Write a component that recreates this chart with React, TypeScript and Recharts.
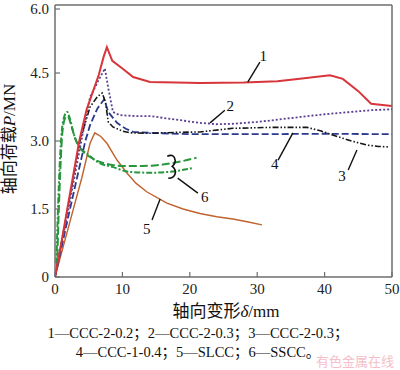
import React from 'react';
import { LineChart, Line, XAxis, YAxis, ReferenceLine, ReferenceDot } from 'recharts';

// ---- data (δ in mm, P in MN) ----
const xTicks = [0, 10, 20, 30, 40, 50];
const yTicks = [0, 1.5, 3.0, 4.5, 6.0];

const delta1 = [0, 1, 2, 3.6, 4.7, 5.3, 6.5, 7.2, 7.7, 8.5, 10, 11.6, 14.1, 18, 21.5, 28, 33, 36, 40.8, 42.7, 45, 46.9, 50];
const load1 = [0, 0.8, 1.65, 3.0, 3.7, 3.95, 4.46, 4.85, 5.07, 4.77, 4.6, 4.41, 4.3, 4.29, 4.28, 4.29, 4.32, 4.37, 4.45, 4.37, 4.1, 3.82, 3.77];

const delta2 = [0, 2, 3.9, 5.2, 6.5, 7.4, 7.9, 8.6, 9.6, 12, 14.1, 18, 21.5, 24, 26.4, 30, 33, 36.4, 40, 43.8, 47, 50];
const load2 = [0, 1.5, 3.0, 3.97, 4.35, 4.6, 4.17, 3.64, 3.57, 3.55, 3.55, 3.47, 3.4, 3.37, 3.38, 3.42, 3.47, 3.53, 3.59, 3.64, 3.68, 3.7];

const delta3 = [0, 2, 3.7, 5.2, 6.3, 7.0, 7.5, 7.9, 8.6, 10, 11.1, 14, 18, 21.5, 26.4, 32, 37.4, 39.5, 41.2, 44, 46.3, 48, 49.4];
const load3 = [0, 1.6, 3.0, 3.75, 3.98, 4.06, 3.85, 3.42, 3.31, 3.22, 3.18, 3.17, 3.19, 3.2, 3.28, 3.3, 3.3, 3.22, 3.13, 3.0, 2.91, 2.88, 2.87];

const delta4 = [0, 2, 4.5, 5.2, 6.3, 7.3, 7.9, 9.2, 10.5, 11.6, 14.1, 20, 30, 40, 50];
const load4 = [0, 1.35, 3.0, 3.35, 3.72, 3.92, 3.64, 3.4, 3.27, 3.2, 3.18, 3.15, 3.15, 3.16, 3.15];

const delta5 = [0, 2, 4, 5.2, 5.9, 6.8, 7.7, 9.2, 10.7, 12, 13.6, 16.6, 19, 21.5, 24, 26.4, 28.5, 30.7];
const load5 = [0, 1.1, 2.2, 2.95, 3.18, 3.1, 2.95, 2.58, 2.29, 2.07, 1.88, 1.63, 1.5, 1.4, 1.33, 1.28, 1.22, 1.15];

const delta6a = [0.3, 0.5, 0.8, 1.1, 1.5, 1.9, 2.3, 3.0, 4.0, 5.5, 7.5, 10, 13, 16, 19, 21];
const load6a = [0.2, 1.2, 2.4, 3.2, 3.5, 3.55, 3.4, 3.05, 2.8, 2.62, 2.5, 2.45, 2.45, 2.48, 2.56, 2.63];

const delta6b = [0.2, 0.4, 0.7, 1.0, 1.4, 1.8, 2.2, 2.7, 3.3, 5.0, 6.5, 8.5, 11, 14, 17, 20.3];
const load6b = [0.3, 1.3, 2.5, 3.2, 3.55, 3.64, 3.5, 3.2, 2.95, 2.69, 2.52, 2.43, 2.32, 2.3, 2.32, 2.4];

// annotation labels
const annNames = ['1', '2', '3', '4', '5', '6'];
const annX = [30.9, 26.0, 42.6, 32.6, 13.6, 22.2];
const annY = [4.83, 3.73, 2.2, 2.45, 1.02, 1.72];
const leadFrom = [[28.6, 4.3], [23.0, 3.4], [44.8, 2.8], [35.3, 3.18], [15.6, 1.72], [18.2, 2.18]];
const leadTo = [[30.4, 4.74], [25.2, 3.68], [43.5, 2.36], [33.1, 2.58], [14.4, 1.26], [21.2, 1.85]];
const bracketPos = [17.4, 2.42];

const zip = (xs: number[], ys: number[]) => xs.map((d, i) => ({ d, p: ys[i] }));

const SERIF = "'Liberation Serif', 'Noto Sans CJK SC', serif";
const AX = '#6e6e6e';

const XTick = (props: any) => {
  const { x, y, payload } = props;
  return (
    <g>
      <line x1={x} x2={x} y1={y} y2={y - 5} stroke={AX} strokeWidth={1.2} />
      <text x={x} y={y + 17} textAnchor="middle" fontSize={15} fontFamily={SERIF} fill="#222">
        {payload.value}
      </text>
    </g>
  );
};

const YTick = (props: any) => {
  const { x, y, payload } = props;
  const v = payload.value;
  return (
    <g>
      <line x1={x} x2={x + 5} y1={y} y2={y} stroke={AX} strokeWidth={1.2} />
      <text x={x - 6} y={y + 5} textAnchor="end" fontSize={15} fontFamily={SERIF} fill="#222">
        {v === 0 ? '0' : v.toFixed(1)}
      </text>
    </g>
  );
};

const textShape = (label: string) => (props: any) => (
  <text x={props.cx} y={props.cy} textAnchor="middle" dominantBaseline="middle" fontSize={15} fontFamily={SERIF} fill="#111">
    {label}
  </text>
);

const bracketShape = (props: any) => {
  const { cx, cy } = props;
  return (
    <path
      d={`M ${cx - 5} ${cy - 11} C ${cx + 3} ${cy - 15} ${cx + 5} ${cy - 5} ${cx} ${cy - 1} C ${cx + 5} ${cy + 3} ${cx + 4} ${cy + 11} ${cx - 4} ${cy + 11}`}
      fill="none"
      stroke="#111"
      strokeWidth={1.6}
    />
  );
};

export default function App() {
  return (
    <div style={{ position: 'absolute', left: 0, top: 0, width: 400, height: 370, background: '#fff' }}>
      <LineChart width={400} height={370} margin={{ top: 5, right: 8, bottom: 63, left: 0 }}>
        <XAxis
          type="number"
          dataKey="d"
          domain={[0, 50]}
          ticks={xTicks}
          allowDataOverflow
          height={30}
          tickSize={0}
          tickMargin={0}
          tick={<XTick />}
          axisLine={{ stroke: AX, strokeWidth: 1.5 }}
        />
        <YAxis
          type="number"
          dataKey="p"
          domain={[0, 6]}
          ticks={yTicks}
          allowDataOverflow
          width={55}
          tickSize={0}
          tickMargin={0}
          tick={<YTick />}
          axisLine={{ stroke: AX, strokeWidth: 1.5 }}
        />
        <ReferenceLine y={6} stroke={AX} strokeWidth={1.5} />
        <ReferenceLine x={50} stroke={AX} strokeWidth={1.5} />

        <Line data={zip(delta5, load5)} dataKey="p" stroke="#c0622e" strokeWidth={1.4} dot={false} isAnimationActive={false} type="linear" />
        <Line data={zip(delta6b, load6b)} dataKey="p" stroke="#27963c" strokeWidth={2} strokeDasharray="6 2 2 2" dot={false} isAnimationActive={false} type="monotone" />
        <Line data={zip(delta6a, load6a)} dataKey="p" stroke="#27963c" strokeWidth={2} strokeDasharray="8 3" dot={false} isAnimationActive={false} type="monotone" />
        <Line data={zip(delta4, load4)} dataKey="p" stroke="#2c3a8e" strokeWidth={1.8} strokeDasharray="7 3" dot={false} isAnimationActive={false} type="linear" />
        <Line data={zip(delta3, load3)} dataKey="p" stroke="#151515" strokeWidth={1.6} strokeDasharray="6 2 1.5 2 1.5 2" dot={false} isAnimationActive={false} type="linear" />
        <Line data={zip(delta2, load2)} dataKey="p" stroke="#5a3f90" strokeWidth={1.8} strokeDasharray="2 2" dot={false} isAnimationActive={false} type="linear" />
        <Line data={zip(delta1, load1)} dataKey="p" stroke="#d8353b" strokeWidth={2} dot={false} isAnimationActive={false} type="linear" />

        {leadFrom.map((f, i) => (
          <ReferenceLine
            key={'l' + i}
            segment={[{ x: f[0], y: f[1] }, { x: leadTo[i][0], y: leadTo[i][1] }]}
            stroke="#111"
            strokeWidth={1.4}
          />
        ))}
        {annNames.map((n, i) => (
          <ReferenceDot key={'a' + i} x={annX[i]} y={annY[i]} r={0} shape={textShape(n)} />
        ))}
        <ReferenceDot x={bracketPos[0]} y={bracketPos[1]} r={0} shape={bracketShape} />
      </LineChart>

      <svg width={400} height={370} style={{ position: 'absolute', left: 0, top: 0, pointerEvents: 'none' }}>
        <text x={226} y={317} textAnchor="middle" fontSize={17} fontFamily={SERIF} fill="#111">
          轴向变形<tspan fontStyle="italic">δ</tspan>/mm
        </text>
        <text transform="translate(15,139) rotate(-90)" textAnchor="middle" fontSize={17} fontFamily={SERIF} fill="#111">
          轴向荷载<tspan fontStyle="italic">P</tspan>/MN
        </text>
        <text x={198} y={338} textAnchor="middle" fontSize={14.5} fontFamily={SERIF} fill="#111">
          1—CCC-2-0.2；2—CCC-2-0.3；3—CCC-2-0.3；
        </text>
        <text x={198} y={357} textAnchor="middle" fontSize={14.5} fontFamily={SERIF} fill="#111">
          4—CCC-1-0.4；5—SLCC；6—SSCC。
        </text>
        <text x={316} y={366} fontSize={13} fontFamily="'Noto Sans CJK SC', sans-serif" fill="#f2a9b8" opacity={0.75}>
          有色金属在线
        </text>
      </svg>
    </div>
  );
}
